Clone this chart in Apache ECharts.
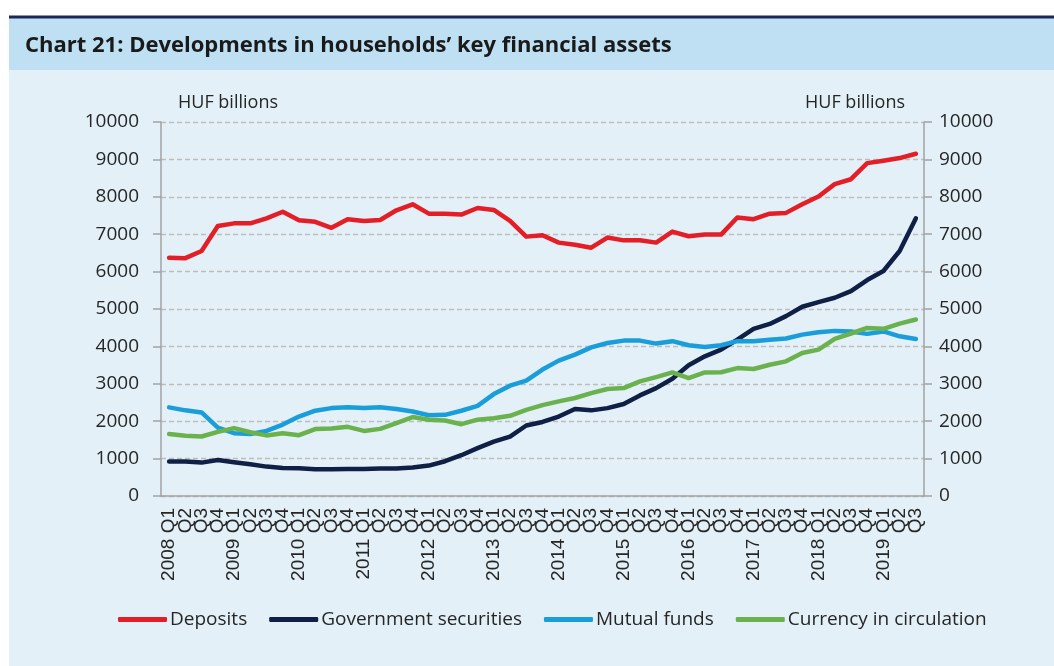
<!DOCTYPE html>
<html>
<head>
<meta charset="utf-8">
<title>Chart 21</title>
<script src="https://cdn.jsdelivr.net/npm/echarts@6/dist/echarts.min.js"></script>
<style>
  html, body { margin: 0; padding: 0; background: #ffffff; }
  #chart { width: 1054px; height: 666px; }
</style>
</head>
<body>
<div id="chart"></div>
<script>
  // x axis: quarters 2008 Q1 .. 2019 Q3
  const quarters = [
    '2008 Q1', 'Q2', 'Q3', 'Q4',
    '2009 Q1', 'Q2', 'Q3', 'Q4',
    '2010 Q1', 'Q2', 'Q3', 'Q4',
    '2011 Q1', 'Q2', 'Q3', 'Q4',
    '2012 Q1', 'Q2', 'Q3', 'Q4',
    '2013 Q1', 'Q2', 'Q3', 'Q4',
    '2014 Q1', 'Q2', 'Q3', 'Q4',
    '2015 Q1', 'Q2', 'Q3', 'Q4',
    '2016 Q1', 'Q2', 'Q3', 'Q4',
    '2017 Q1', 'Q2', 'Q3', 'Q4',
    '2018 Q1', 'Q2', 'Q3', 'Q4',
    '2019 Q1', 'Q2', 'Q3'
  ]

  // HUF billions
  const deposits = [
    6370, 6360, 6550, 7220, 7290, 7290, 7425, 7600, 7370, 7330,
    7170, 7400, 7355, 7380, 7640, 7800, 7550, 7550, 7525, 7700,
    7650, 7355, 6935, 6970, 6775, 6720, 6640, 6910, 6835, 6840,
    6775, 7070, 6945, 6990, 6990, 7445, 7400, 7550, 7570, 7800,
    8010, 8340, 8470, 8900, 8965, 9035, 9150
  ]
  const govSecurities = [
    920, 920, 893, 965, 903, 850, 786, 750, 740, 715,
    715, 725, 725, 735, 735, 760, 813, 930, 1090, 1280,
    1455, 1590, 1885, 1980, 2125, 2325, 2290, 2350, 2460, 2690,
    2885, 3135, 3495, 3735, 3915, 4180, 4470, 4600, 4810, 5060,
    5185, 5300, 5480, 5775, 6015, 6550, 7425
  ]
  const mutualFunds = [
    2370, 2290, 2235, 1830, 1680, 1660, 1740, 1910, 2125, 2280,
    2350, 2370, 2350, 2370, 2325, 2260, 2160, 2170, 2280, 2410,
    2725, 2950, 3085, 3380, 3620, 3780, 3975, 4090, 4155, 4155,
    4075, 4140, 4030, 3985, 4030, 4140, 4140, 4180, 4210, 4315,
    4380, 4415, 4400, 4335, 4400, 4270, 4200
  ]
  const currency = [
    1660, 1610, 1590, 1715, 1815, 1705, 1620, 1680, 1625, 1790,
    1805, 1850, 1740, 1795, 1950, 2110, 2040, 2020, 1920, 2040,
    2080, 2145, 2305, 2430, 2530, 2620, 2750, 2860, 2885, 3065,
    3180, 3305, 3155, 3305, 3310, 3420, 3395, 3510, 3600, 3825,
    3915, 4200, 4345, 4495, 4470, 4610, 4720
  ]

  const seriesNames = ['Deposits', 'Government securities', 'Mutual funds', 'Currency in circulation']
  const seriesColors = ['#e31e26', '#0f1f45', '#1a9ddb', '#6ab24e']
  const seriesData = [deposits, govSecurities, mutualFunds, currency]

  const textColor = '#262626'
  const axisGrey = '#a3a3a3'

  const chart = echarts.init(document.getElementById('chart'))

  // y axis shared settings (left and right are identical scales)
  function valueAxis(position, showGrid) {
    const isLeft = position === 'left'
    return {
      type: 'value',
      position: position,
      min: 0,
      max: 10000,
      interval: 1000,
      name: 'HUF billions',
      nameLocation: 'end',
      nameGap: 10,
      nameTextStyle: {
        fontFamily: 'Open Sans',
        fontSize: 18,
        color: textColor,
        align: isLeft ? 'left' : 'right',
        padding: isLeft ? [0, 0, 0, 17] : [0, 19, 0, 0]
      },
      axisLine: { show: true, lineStyle: { color: axisGrey, width: 1.5 } },
      axisTick: { show: true, length: 8, lineStyle: { color: axisGrey, width: 1.5 } },
      axisLabel: {
        margin: isLeft ? 22 : 15,
        fontFamily: 'Open Sans',
        fontSize: 19,
        color: textColor,
        formatter: function (v) { return String(v) }
      },
      splitLine: {
        show: showGrid,
        lineStyle: { color: '#bdbdbd', type: [5, 3], width: 1.3 }
      }
    }
  }

  chart.setOption({
    animation: false,
    backgroundColor: '#ffffff',
    graphic: [
      // light body
      { type: 'rect', z: -10, shape: { x: 9, y: 18, width: 1045, height: 648 }, style: { fill: '#e3f0f7' } },
      // title band
      { type: 'rect', z: -9, shape: { x: 9, y: 18, width: 1045, height: 52 }, style: { fill: '#bee0f2' } },
      // top rule
      { type: 'rect', z: -8, shape: { x: 9, y: 15.5, width: 1045, height: 3 }, style: { fill: '#1e2558' } }
    ],
    title: {
      text: 'Chart 21: Developments in households’ key financial assets',
      left: 20,
      top: 30,
      textStyle: {
        fontFamily: 'Open Sans',
        fontWeight: 'bold',
        fontSize: 22,
        color: '#1a1a1a'
      }
    },
    legend: {
      data: seriesNames,
      left: 113,
      top: 605,
      itemWidth: 49,
      itemHeight: 5,
      itemGap: 22,
      icon: 'roundRect',
      textStyle: {
        fontFamily: 'Open Sans',
        fontSize: 19,
        color: textColor,
        padding: [0, 0, 0, -2]
      }
    },
    grid: {
      left: 161,
      right: 130,
      top: 122,
      bottom: 170
    },
    xAxis: {
      type: 'category',
      boundaryGap: true,
      data: quarters,
      axisLine: { show: true, lineStyle: { color: axisGrey, width: 1.5 } },
      axisTick: { show: false },
      axisLabel: {
        interval: 0,
        rotate: 90,
        margin: 12,
        fontFamily: 'Liberation Sans',
        fontSize: 19,
        color: textColor
      }
    },
    yAxis: [valueAxis('left', true), valueAxis('right', false)],
    series: seriesNames.map(function (name, i) {
      return {
        name: name,
        type: 'line',
        yAxisIndex: 0,
        symbol: 'none',
        data: seriesData[i],
        itemStyle: { color: seriesColors[i] },
        lineStyle: { color: seriesColors[i], width: 4.5, cap: 'round', join: 'round' }
      }
    })
  })
</script>
</body>
</html>
